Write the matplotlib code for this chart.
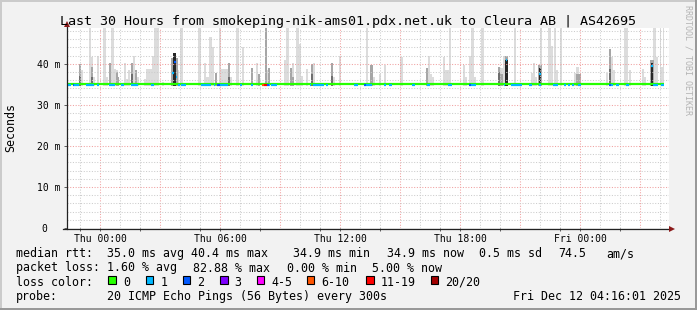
import matplotlib.pyplot as plt
from matplotlib.patches import Rectangle

# ---- DATA (time in hours relative to Thu 00:00, values in ms) ----
x_first = -1.65
x_last = 28.45
data_last = 28.2
median_rtt = 35.0
smoke_floor = 34.6

# outer smoke (t0, t1, top)
light_smoke = [
    (-0.95, -0.87, 38.4), (-0.55, -0.45, 48.8), (-0.45, -0.35, 41.7), (-0.35, -0.25, 36.8),
    (-0.15, -0.05, 42.0), (0.15, 0.30, 48.8), (0.30, 0.40, 36.8), (0.45, 0.55, 40.2),
    (0.55, 0.70, 48.8), (0.70, 0.80, 38.8), (0.80, 0.90, 38.4), (1.20, 1.30, 40.2),
    (1.30, 1.40, 36.4), (1.40, 1.50, 38.4), (1.65, 1.75, 42.0), (1.75, 1.85, 38.4),
    (1.85, 1.95, 36.8), (2.20, 2.30, 36.4), (2.30, 2.60, 38.8), (2.60, 2.70, 42.0),
    (2.70, 2.95, 48.8), (3.10, 3.20, 35.5), (3.88, 3.95, 38.4), (4.00, 4.15, 48.8),
    (4.90, 5.05, 48.8), (5.20, 5.30, 40.2), (5.30, 5.45, 36.7), (5.45, 5.60, 46.5),
    (5.60, 5.70, 44.0), (5.95, 6.05, 48.8), (6.05, 6.40, 38.6), (6.50, 6.60, 36.7),
    (6.80, 6.95, 48.8), (7.10, 7.20, 44.0), (7.80, 7.90, 40.2), (8.35, 8.45, 38.4),
    (9.20, 9.30, 40.9), (9.30, 9.45, 48.8), (9.60, 9.70, 40.2), (9.80, 9.95, 48.8),
    (9.95, 10.05, 44.8), (10.05, 10.15, 37.0), (10.30, 10.40, 38.6), (10.65, 10.75, 40.2),
    (11.65, 11.75, 36.7), (11.95, 12.05, 42.0), (13.30, 13.40, 48.8), (13.65, 13.75, 36.7),
    (13.95, 14.05, 37.4), (14.20, 14.30, 39.6), (15.00, 15.15, 41.6), (16.40, 16.50, 42.0),
    (16.50, 16.60, 37.4), (16.60, 16.70, 36.7), (17.15, 17.25, 41.6), (17.25, 17.45, 38.4),
    (17.45, 17.55, 48.8), (18.15, 18.25, 39.6), (18.25, 18.35, 36.7), (18.45, 18.55, 42.0),
    (18.55, 18.70, 48.8), (18.70, 18.80, 36.8), (19.05, 19.20, 48.8), (20.00, 20.15, 39.0),
    (20.15, 20.25, 42.0), (20.70, 20.80, 48.8), (21.55, 21.65, 37.7), (21.65, 21.75, 40.2),
    (21.75, 21.85, 36.8), (22.00, 22.10, 48.8), (22.40, 22.55, 48.8), (22.55, 22.65, 44.3),
    (22.70, 22.80, 48.8), (22.80, 22.90, 38.4), (23.00, 23.10, 48.8), (23.70, 23.80, 37.7),
    (23.80, 23.95, 39.1), (25.30, 25.40, 37.7), (25.55, 25.65, 41.6), (25.65, 25.75, 38.4),
    (26.20, 26.40, 48.8), (26.45, 26.55, 38.4), (27.10, 27.20, 38.8), (27.20, 27.30, 36.7),
    (27.65, 27.80, 48.8), (27.80, 27.90, 41.6), (28.00, 28.05, 48.8), (28.05, 28.15, 39.1),
    (28.15, 28.20, 48.8),
]

mid_smoke = [
    (-1.05, -0.95, 40.0), (-0.45, -0.35, 39.3), (0.45, 0.55, 40.2), (0.80, 0.90, 38.0),
    (0.90, 0.97, 36.8), (1.55, 1.65, 40.2), (1.75, 1.85, 38.4), (3.55, 3.88, 41.5),
    (5.75, 5.85, 37.7), (6.40, 6.50, 40.2), (7.55, 7.65, 39.0), (7.90, 8.00, 37.5),
    (8.25, 8.35, 48.8), (8.40, 8.50, 39.0), (9.50, 9.60, 39.0), (9.60, 9.70, 36.7),
    (10.55, 10.65, 39.9), (11.55, 11.65, 40.2), (13.50, 13.65, 39.7), (16.30, 16.40, 39.0),
    (19.90, 20.00, 39.3), (20.00, 20.15, 37.5), (20.25, 20.40, 42.0), (21.90, 22.10, 39.6),
    (23.80, 24.05, 37.5), (25.45, 25.55, 43.7), (27.50, 27.70, 41.0),
]

dark_smoke = [
    (-1.05, -0.95, 37.0), (-0.45, -0.35, 36.8), (1.55, 1.65, 37.5), (6.40, 6.50, 36.7),
    (10.55, 10.65, 37.5), (11.55, 11.65, 37.0), (19.90, 20.00, 38.0), (25.45, 25.55, 38.8),
]

core_smoke = [
    (3.63, 3.80, 42.6), (20.27, 20.38, 40.9), (21.95, 22.05, 39.0), (27.53, 27.67, 40.2),
]

# median colour by lost pings (t0, t1, loss class)
loss_segments = [
    (-1.65, -1.45, '1'), (-1.35, -1.30, '2'), (-1.30, -1.05, '1'), (-0.70, -0.30, '1'),
    (-0.15, -0.05, '1'), (0.45, 0.75, '1'), (1.05, 1.20, '1'), (1.55, 1.90, '1'),
    (2.55, 2.70, '1'), (3.90, 4.00, '1'), (4.05, 4.30, '1'), (5.05, 5.55, '1'),
    (5.70, 5.75, '1'), (5.85, 6.00, '2'), (6.00, 6.40, '1'), (7.00, 7.10, '1'),
    (7.55, 7.65, '1'), (8.10, 8.20, '6-10'), (8.20, 8.35, '11-19'), (8.35, 8.45, '2'),
    (8.45, 8.50, '1'), (8.55, 8.85, '1'), (10.50, 10.55, '1'), (10.65, 11.20, '1'),
    (11.30, 11.40, '1'), (12.70, 12.90, '1'), (13.20, 13.30, '2'), (13.30, 13.60, '1'),
    (14.20, 14.30, '1'), (14.45, 14.60, '1'), (15.60, 15.75, '1'), (16.35, 16.50, '1'),
    (17.40, 17.60, '1'), (18.45, 18.55, '2'), (18.55, 18.80, '1'), (20.20, 20.25, '1'),
    (20.55, 21.10, '1'), (21.45, 21.60, '1'), (21.95, 22.05, '1'), (22.65, 22.90, '1'),
    (23.20, 23.30, '1'), (23.40, 23.50, '1'), (23.60, 23.70, '1'), (23.90, 24.05, '1'),
    (25.45, 25.55, '2'), (25.55, 25.65, '1'), (25.80, 25.95, '1'), (26.30, 26.45, '1'),
    (27.65, 27.90, '1'), (28.05, 28.20, '1'),
]

# median points that jump up inside the dark spikes (t, value, loss class)
median_spikes = [
    (3.65, 37.7, '1'), (3.75, 40.5, '2'), (3.83, 36.7, '1'),
    (20.32, 40.8, '1'), (22.00, 37.6, '1'), (27.60, 39.5, '1'),
]

loss_names = ['0', '1', '2', '3', '4-5', '6-10', '11-19', '20/20']
loss_hex = ['#26ff00', '#00b8ff', '#0059ff', '#7e00ff', '#ff00ff', '#ff5500', '#ff0000', '#a10000']
loss_color = dict(zip(loss_names, loss_hex))

ytick_vals = [0, 10, 20, 30, 40]
ytick_labels = ['0  ', '10 m', '20 m', '30 m', '40 m']
xtick_vals = [0, 6, 12, 18, 24]
xtick_labels = ['Thu 00:00', 'Thu 06:00', 'Thu 12:00', 'Thu 18:00', 'Fri 00:00']

title = 'Last 30 Hours from smokeping-nik-ams01.pdx.net.uk to Cleura AB | AS42695'
rtt_items = ['35.0 ms avg', '40.4 ms max', '34.9 ms min', '34.9 ms now', '0.5 ms sd', '74.5', 'am/s']
loss_items = ['1.60 % avg', '82.88 % max', '0.00 % min', '5.00 % now']
probe_text = '20 ICMP Echo Pings (56 Bytes) every 300s'
stamp_text = 'Fri Dec 12 04:16:01 2025'

# ---- FIGURE ----
W, H = 697, 310
MONO = 'DejaVu Sans Mono'
BG = '#f2f2f2'
fig = plt.figure(figsize=(W / 100, H / 100), dpi=100, facecolor=BG)

ax = fig.add_axes([67 / W, 82 / H, 602 / W, 200 / H])
ax.set_facecolor('white')
ax.set_xlim(x_first, x_last)
ax.set_ylim(0, 48.7)
for s in ax.spines.values():
    s.set_visible(False)

# grid (dotted, red every 3h / 10 ms)
for h in range(-1, 29):
    c = '#f0a0a0' if h % 3 == 0 else '#cccccc'
    ax.axvline(h, color=c, lw=0.75, ls=(0, (1, 1.6)), zorder=2)
for v in range(2, 49, 2):
    c = '#f0a0a0' if v % 10 == 0 else '#cccccc'
    ax.axhline(v, color=c, lw=0.75, ls=(0, (1, 1.6)), zorder=2)

# smoke layers
for layer, col, z in [(light_smoke, '#dcdcdc', 1), (mid_smoke, '#a6a6a6', 1.2),
                      (dark_smoke, '#6e6e6e', 1.4), (core_smoke, '#262626', 1.6)]:
    ax.bar([b[0] for b in layer], [b[2] - smoke_floor for b in layer],
           width=[b[1] - b[0] for b in layer], bottom=smoke_floor, align='edge',
           color=col, linewidth=0, zorder=z)

# median line coloured by loss
ax.hlines(median_rtt, x_first, data_last, color=loss_color['0'], lw=1.6, zorder=3)
for t0, t1, k in loss_segments:
    ax.hlines(median_rtt - 0.1, t0, t1, color=loss_color[k], lw=1.6, zorder=3.1)
for t, v, k in median_spikes:
    ax.hlines(v, t - 0.03, t + 0.03, color=loss_color[k], lw=1.6, zorder=3.2)

ax.set_xticks(xtick_vals)
ax.set_xticklabels(xtick_labels, family=MONO, fontsize=7)
ax.set_xticks(range(-1, 29, 3), minor=True)
ax.set_yticks(ytick_vals)
ax.set_yticklabels(ytick_labels, family=MONO, fontsize=7)
ax.tick_params(axis='x', which='both', length=2, width=0.6, color='#444444', pad=2.5)
ax.tick_params(axis='y', which='major', length=2, width=0.6, color='#444444', pad=3)

# ---- overlay in pixel coordinates for axes, frame and legend ----
ov = fig.add_axes([0, 0, 1, 1], facecolor='none')
ov.set_xlim(0, W)
ov.set_ylim(H, 0)
ov.axis('off')

# 3d frame
ov.add_patch(Rectangle((0, 0), W, 2, color='#cbcbcb', lw=0))
ov.add_patch(Rectangle((0, 0), 2, H, color='#cbcbcb', lw=0))
ov.add_patch(Rectangle((0, H - 2), W, 2, color='#999999', lw=0))
ov.add_patch(Rectangle((W - 2, 0), 2, H, color='#999999', lw=0))

# axis lines with arrows
ov.plot([67, 67], [228.5, 25], color='#222222', lw=0.9)
ov.plot([63, 670], [228.5, 228.5], color='#222222', lw=0.9)
ov.plot([67], [23.5], marker='^', ms=4.5, color='#8b1a1a', mew=0)
ov.plot([671.5], [228.5], marker='>', ms=4.5, color='#8b1a1a', mew=0)

ov.text(348.5, 25, title, family=MONO, fontsize=9.6, ha='center', va='baseline', color='black')
ov.text(11, 127.5, 'Seconds', family=MONO, fontsize=8.4, rotation=90, ha='center', va='center')
ov.text(688, 60, 'RRDTOOL / TOBI OETIKER', family=MONO, fontsize=6, rotation=-90,
        ha='center', va='center', color='#b4b4b4')

# legend rows
tk = dict(family=MONO, fontsize=8.4, va='baseline', color='black')
ov.text(16, 257.3, 'median rtt:', **tk)
for x, s in zip([107.3, 190.7, 293.3, 386.7, 479.3, 558.3, 606.7], rtt_items):
    ov.text(x, 257.3, s, **tk)
ov.text(16, 271.5, 'packet loss:', **tk)
for x, s in zip([107.3, 193.3, 286.7, 371.7], loss_items):
    ov.text(x, 271.5, s, **tk)
ov.text(16, 285.7, 'loss color:', **tk)
for x, name, col in zip([108.3, 145.5, 182.7, 220.0, 256.5, 306.5, 366.0, 430.7], loss_names, loss_hex):
    ov.add_patch(Rectangle((x, 276), 7.7, 7.7, facecolor=col, edgecolor='black', lw=0.8))
    ov.text(x + 14.7, 285.7, name, **tk)
ov.text(16, 300, 'probe:', **tk)
ov.text(107.3, 300, probe_text, **tk)
ov.text(681, 300, stamp_text, ha='right', **tk)

fig.savefig('out.png', dpi=100, facecolor=BG)
